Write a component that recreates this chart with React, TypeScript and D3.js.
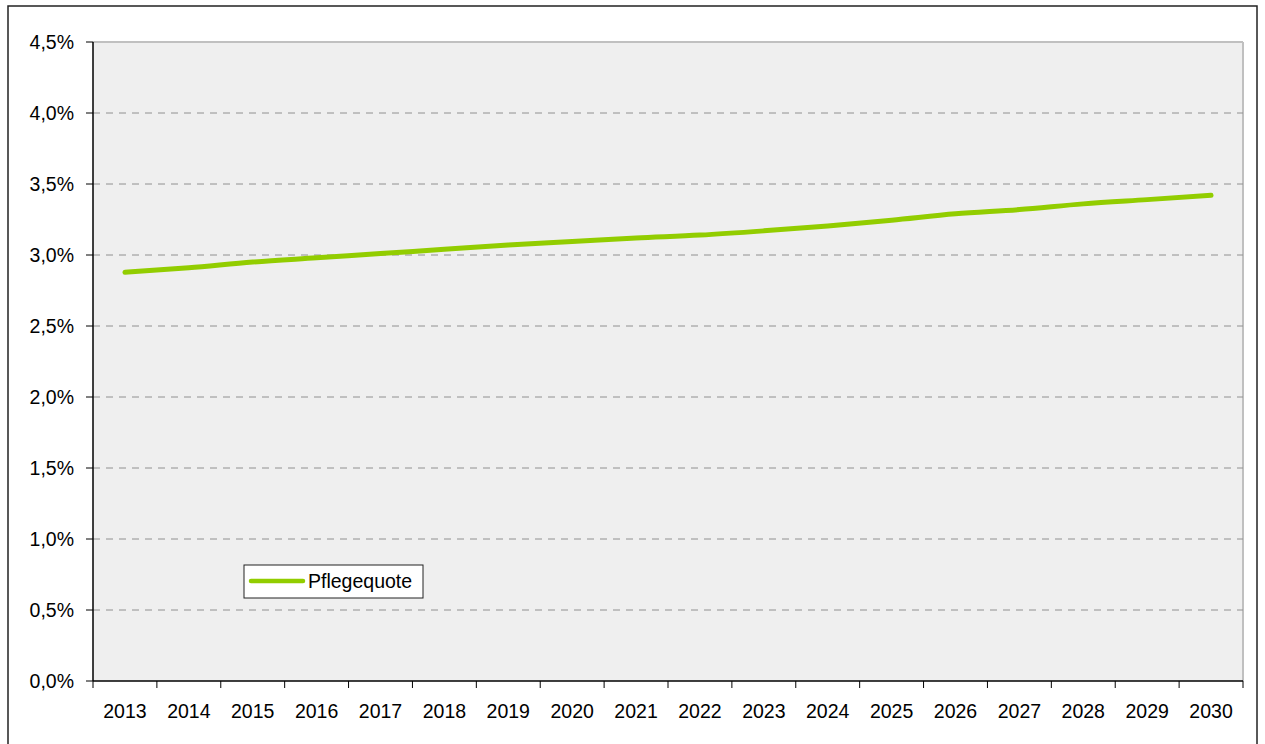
import React from "react";
import * as d3 from "d3";

const years = ["2013","2014","2015","2016","2017","2018","2019","2020","2021","2022","2023","2024","2025","2026","2027","2028","2029","2030"];
const pflegequote = [2.878, 2.91, 2.95, 2.98, 3.01, 3.04, 3.07, 3.095, 3.12, 3.14, 3.17, 3.205, 3.245, 3.29, 3.32, 3.36, 3.39, 3.42];
const yTicks = [0, 0.5, 1.0, 1.5, 2.0, 2.5, 3.0, 3.5, 4.0, 4.5];
const seriesName = "Pflegequote";

export default function App() {
  const W = 1265, H = 744;
  const L = 93, R = 1243, T = 42, B = 681;
  const x = d3.scaleBand<string>().domain(years).range([L, R]).padding(0);
  const y = d3.scaleLinear().domain([0, 4.5]).range([B, T]);
  const line = d3.line<number>()
    .x((_, i) => (x(years[i]) as number) + x.bandwidth() / 2)
    .y(d => y(d))
    .curve(d3.curveMonotoneX);
  const fmt = (v: number) => v.toFixed(1).replace(".", ",") + "%";
  const font = "'Liberation Sans', Arial, sans-serif";
  const green = "#92cd00";
  const fs = 19.5;
  return (
    <svg width={W} height={H} style={{ position: "absolute", left: 0, top: 0, background: "#fff" }} fontFamily={font}>
      <rect x={8} y={6} width={1249} height={760} fill="#fff" stroke="#222" strokeWidth={1.5} />
      <rect x={L} y={T} width={R - L} height={B - T} fill="#efefef" />
      <line x1={L} x2={R} y1={T} y2={T} stroke="#c0c0c0" strokeWidth={2} />
      <line x1={R} x2={R} y1={T} y2={B} stroke="#c0c0c0" strokeWidth={2} />
      {yTicks.filter(t => t > 0 && t < 4.5).map(t => (
        <line key={"g" + t} x1={L} x2={R} y1={y(t)} y2={y(t)} stroke="#909090" strokeWidth={1} strokeDasharray="7,6" />
      ))}
      {yTicks.map(t => (
        <g key={"y" + t}>
          <line x1={L - 7} x2={L} y1={y(t)} y2={y(t)} stroke="#000" strokeWidth={1} />
          <text x={74} y={y(t)} dy="0.35em" textAnchor="end" fontSize={fs} fill="#000">{fmt(t)}</text>
        </g>
      ))}
      {years.map((yr, i) => (
        <line key={"xt" + yr} x1={(x(yr) as number) + x.bandwidth()} x2={(x(yr) as number) + x.bandwidth()} y1={B} y2={B + 7} stroke="#000" strokeWidth={1} />
      ))}
      <line x1={L} x2={L} y1={B} y2={B + 7} stroke="#000" strokeWidth={1} />
      {years.map(yr => (
        <text key={"xl" + yr} x={(x(yr) as number) + x.bandwidth() / 2} y={718} textAnchor="middle" fontSize={fs} fill="#000">{yr}</text>
      ))}
      <line x1={L} x2={L} y1={T} y2={B} stroke="#000" strokeWidth={1.5} />
      <line x1={L} x2={R} y1={B} y2={B} stroke="#000" strokeWidth={1.5} />
      <path d={line(pflegequote) || ""} fill="none" stroke={green} strokeWidth={5} strokeLinecap="round" strokeLinejoin="round" />
      <g>
        <rect x={244} y={565} width={179} height={33} fill="#fff" stroke="#222" strokeWidth={1} />
        <line x1={251} x2={303} y1={581} y2={581} stroke={green} strokeWidth={4.5} strokeLinecap="round" />
        <text x={308} y={581} dy="0.35em" fontSize={fs} fill="#000">{seriesName}</text>
      </g>
    </svg>
  );
}
